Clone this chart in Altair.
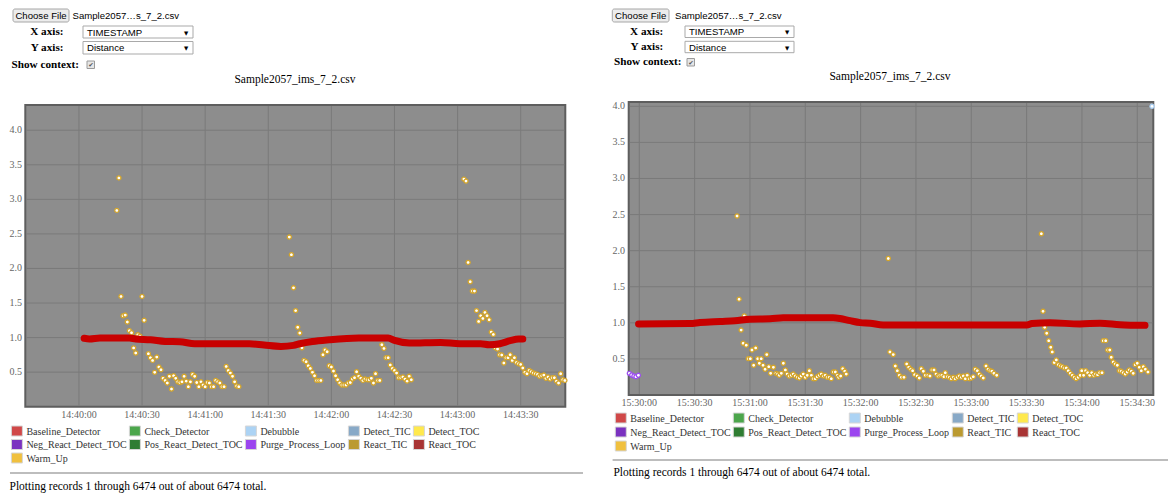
import altair as alt
import pandas as pd

SERIF = "Liberation Serif"
SANS = "Liberation Sans"
SYM = "DejaVu Sans"

FILE_NAME = "Sample2057_ims_7_2.csv"
FILE_SHORT = "Sample2057\u2026s_7_2.csv"
X_FIELD = "TIMESTAMP"
Y_FIELD = "Distance"
FOOTER = "Plotting records 1 through 6474 out of about 6474 total."

LEGEND_NAMES = ["Baseline_Detector", "Check_Detector", "Debubble", "Detect_TIC", "Detect_TOC",
                "Neg_React_Detect_TOC", "Pos_React_Detect_TOC", "Purge_Process_Loop", "React_TIC", "React_TOC",
                "Warm_Up"]
LEGEND_COLORS = ["#d04848", "#4ca64c", "#acd3f4", "#88a9c7", "#ffe94d",
                 "#7a32c0", "#2f7d33", "#9b45ef", "#bb9a30", "#a83434",
                 "#f0c03e"]

Y_TICKS = [0.5, 1.0, 1.5, 2.0, 2.5, 3.0, 3.5, 4.0]
Y_LABELS = ["0.5", "1.0", "1.5", "2.0", "2.5", "3.0", "3.5", "4.0"]

# ---------------- left panel: seconds after 14:40:00 ----------------
L_XTICKS = [0, 30, 60, 90, 120, 150, 180, 210]
L_XLABELS = ["14:40:00", "14:40:30", "14:41:00", "14:41:30", "14:42:00", "14:42:30", "14:43:00", "14:43:30"]

L_RED_T = [2.5, 5, 10, 24, 27, 34, 41, 48, 55, 81, 88, 96, 102, 105, 111, 119, 133, 147, 150, 157,
           172, 181, 191, 195, 200, 205, 209, 211]
L_RED_V = [0.99, 0.98, 0.994, 0.994, 0.979, 0.969, 0.944, 0.94, 0.911, 0.911, 0.892, 0.872, 0.887, 0.911,
           0.944, 0.969, 0.994, 0.994, 0.959, 0.921, 0.93, 0.911, 0.911, 0.897, 0.911, 0.955, 0.979, 0.979]

L_PT_T = [18, 19, 20, 21, 22, 23, 24, 25, 26, 27, 28, 29, 30, 31,
          33, 34, 35, 36, 37, 38, 39, 40, 41, 42, 43, 44, 45, 46, 47, 48, 49, 50, 51, 52, 53, 54,
          55, 56, 57, 58, 59, 60, 61, 62, 63, 64, 65, 66, 67, 68, 69, 70, 71, 72, 73, 74, 75, 76,
          100, 101, 102, 103, 104, 105, 106, 107, 108, 109, 110, 111, 112, 113, 114, 115, 116, 117,
          118, 119, 120, 121, 122, 123, 124, 125, 126, 127, 128, 129, 130, 131, 132, 133, 134, 135,
          136, 137, 138, 139, 140, 141, 142, 143, 144, 145, 146, 147, 148, 149, 150, 151, 152, 153,
          154, 155, 156, 157, 158,
          183, 184, 185, 186, 187, 188, 189, 190, 191, 192, 193, 194, 195, 196, 197, 198, 199, 200,
          201, 202, 203, 204, 205, 206, 207, 208, 209, 210, 211, 212, 213, 214, 215, 216, 217, 218,
          219, 220, 221, 222, 223, 224, 225, 226, 227, 228, 229, 230, 231]
L_PT_V = [2.84, 3.31, 1.595, 1.316, 1.326, 1.225, 1.10, 1.07, 0.85, 0.777, 1.04, 1.02, 1.595, 1.25,
          0.767, 0.709, 0.67, 0.497, 0.718, 0.574, 0.535, 0.41, 0.38, 0.343, 0.44, 0.256, 0.448, 0.41,
          0.36, 0.35, 0.36, 0.44, 0.37, 0.29, 0.36, 0.467, 0.44, 0.35, 0.29, 0.36, 0.314, 0.29, 0.35,
          0.343, 0.29, 0.29, 0.38, 0.36, 0.343, 0.29, 0.29, 0.583, 0.525, 0.487, 0.44, 0.36, 0.30, 0.29,
          2.454, 2.20, 1.72, 1.39, 1.15, 1.066, 0.853, 0.67, 0.65, 0.593, 0.554, 0.497, 0.448, 0.38,
          0.38, 0.38, 0.752, 0.82, 0.795, 0.593, 0.574, 0.516, 0.448, 0.39, 0.343, 0.314, 0.314, 0.314,
          0.343, 0.35, 0.40, 0.42, 0.506, 0.44, 0.41, 0.38, 0.40, 0.39, 0.39, 0.41, 0.343, 0.477, 0.38,
          0.38, 0.897, 0.843, 0.709, 0.709, 0.603, 0.554, 0.525, 0.487, 0.42, 0.42, 0.43, 0.40, 0.37,
          0.44, 0.39,
          3.293, 3.264, 2.087, 1.808, 1.673, 1.673, 1.39, 1.234, 1.316, 1.277, 1.364, 1.316, 1.258,
          1.08, 1.046, 0.85, 0.834, 0.752, 0.748, 0.632, 0.709, 0.709, 0.752, 0.67, 0.709, 0.641,
          0.622, 0.612, 0.56, 0.497, 0.477, 0.525, 0.506, 0.487, 0.477, 0.467, 0.44, 0.448, 0.458,
          0.41, 0.43, 0.40, 0.42, 0.42, 0.37, 0.343, 0.477, 0.39, 0.38]

# ---------------- right panel: seconds after 15:30:00 ----------------
R_XTICKS = [0, 30, 60, 90, 120, 150, 180, 210, 240, 270]
R_XLABELS = ["15:30:00", "15:30:30", "15:31:00", "15:31:30", "15:32:00", "15:32:30", "15:33:00",
             "15:33:30", "15:34:00", "15:34:30"]

R_RED_T = [-0.4, 27.5, 32.9, 43.8, 51.9, 60.0, 70.9, 78.0, 105.1, 108.9, 114.3, 119.8, 125.2, 132.2,
           210.2, 212.9, 222.7, 238.9, 249.8, 260.6, 274.2]
R_RED_V = [0.985, 0.99, 1.005, 1.02, 1.03, 1.05, 1.055, 1.07, 1.07, 1.06, 1.03, 1.003, 0.995, 0.971,
           0.971, 0.99, 1.0, 0.985, 0.995, 0.975, 0.965]

R_PT_T = [53.0, 54.1, 55.2, 56.3, 56.9, 58.0, 59.1, 60.2, 61.1, 62.0, 63.1, 64.2, 65.1, 66.1, 67.1,
          68.2, 69.1, 70.2, 71.2, 72.7, 74.1, 75.0, 75.9, 77.0, 78.1, 79.2, 80.2, 81.3, 82.4, 83.5,
          84.6, 85.7, 86.8, 87.8, 88.9, 90.0, 91.1, 92.2, 93.3, 94.3, 95.4, 96.5, 97.6, 98.7, 99.8,
          100.8, 101.9, 103.0, 104.1, 105.2, 106.3, 107.4, 108.1, 109.2, 110.3, 111.4, 112.2,
          135.0, 135.9, 137.7, 138.8, 139.9, 141.0, 142.1, 143.5, 145.0, 146.1, 147.2, 148.2, 149.3,
          150.7, 151.8, 152.9, 154.0, 155.1, 156.5, 157.6, 158.7, 159.8, 160.9, 162.0, 163.0, 164.1,
          165.2, 165.9, 167.0, 168.1, 169.2, 170.3, 171.3, 172.4, 173.5, 174.6, 175.7, 176.8, 177.8,
          178.9, 180.0, 181.1, 182.2, 183.3, 184.3, 185.4, 186.5, 188.0, 189.1, 190.2, 191.2, 192.3,
          193.8,
          218.0, 218.9, 219.8, 220.9, 222.0, 223.1, 223.9, 225.0, 226.1, 227.2, 228.3, 229.3, 230.4,
          231.5, 232.6, 233.7, 234.8, 235.9, 236.9, 238.0, 239.1, 239.9, 240.9, 242.0, 243.1, 244.2,
          245.3, 246.4, 247.4, 248.5, 249.6, 250.9, 251.6, 252.9, 254.0, 255.1, 255.9, 257.0, 258.1,
          259.2, 260.3, 261.3, 262.4, 263.5, 264.6, 265.7, 266.8, 267.8, 268.9, 270.0, 271.1, 272.2,
          273.3, 274.4, 275.8]
R_PT_V = [2.48, 1.328, 0.90, 0.717, 1.096, 0.69, 0.504, 0.504, 0.624, 0.412, 0.652, 0.504, 0.44,
          0.504, 0.412, 0.357, 0.56, 0.393, 0.30, 0.384, 0.30, 0.29, 0.273, 0.30, 0.44, 0.347, 0.29,
          0.263, 0.273, 0.29, 0.263, 0.245, 0.236, 0.263, 0.29, 0.245, 0.273, 0.337, 0.273, 0.226,
          0.226, 0.254, 0.273, 0.29, 0.263, 0.273, 0.245, 0.245, 0.226, 0.319, 0.319, 0.273, 0.245,
          0.263, 0.365, 0.329, 0.29,
          1.891, 0.597, 0.56, 0.402, 0.337, 0.273, 0.245, 0.245, 0.43, 0.384, 0.357, 0.337, 0.282,
          0.263, 0.236, 0.365, 0.329, 0.273, 0.273, 0.263, 0.347, 0.347, 0.29, 0.263, 0.273, 0.273,
          0.254, 0.31, 0.254, 0.245, 0.226, 0.245, 0.226, 0.245, 0.263, 0.245, 0.263, 0.226, 0.273,
          0.226, 0.236, 0.254, 0.357, 0.337, 0.29, 0.263, 0.236, 0.402, 0.357, 0.337, 0.329, 0.30,
          0.273,
          2.234, 1.161, 0.939, 0.856, 0.753, 0.662, 0.597, 0.449, 0.486, 0.42, 0.402, 0.393, 0.375,
          0.375, 0.337, 0.30, 0.273, 0.245, 0.226, 0.245, 0.273, 0.337, 0.273, 0.337, 0.31, 0.273,
          0.31, 0.273, 0.29, 0.282, 0.31, 0.31, 0.753, 0.753, 0.624, 0.624, 0.523, 0.458, 0.43,
          0.412, 0.337, 0.329, 0.31, 0.29, 0.319, 0.347, 0.329, 0.30, 0.42, 0.44, 0.384, 0.337,
          0.393, 0.357, 0.319]

R_PURGE_T = [-5.4, -4.1, -2.9, -1.8, -0.5]
R_PURGE_V = [0.30, 0.277, 0.263, 0.254, 0.273]
R_DEBUB_T = [278.0]
R_DEBUB_V = [4.0]

# ------------------------------------------------------------------
dummy = pd.DataFrame({"k": [0]})


def txt(s, x, y, size, font=SERIF, weight="normal", align="left", color="#000000"):
    return alt.Chart(dummy).mark_text(text=s, fontSize=size, font=font, fontWeight=weight,
                                      align=align, baseline="middle", color=color).encode(
        x=alt.value(x), y=alt.value(y))


def box(x0, y0, x1, y1, fill, stroke, sw=1.0, r=0):
    return alt.Chart(dummy).mark_rect(fill=fill, stroke=stroke, strokeWidth=sw, cornerRadius=r).encode(
        x=alt.value(x0), x2=alt.value(x1), y=alt.value(y0), y2=alt.value(y1))


def hline(x0, x1, y, color, w):
    return alt.Chart(dummy).mark_rule(color=color, strokeWidth=w).encode(
        x=alt.value(x0), x2=alt.value(x1), y=alt.value(y))


def header(c):
    L = []
    bx0, by0, bx1, by1 = c["button"]
    L.append(box(bx0, by0, bx1, by1, "#ececec", "#a6a6a6", 1, 2))
    L.append(txt("Choose File", (bx0 + bx1) / 2, (by0 + by1) / 2 + 0.5, 9.6, SANS, align="center"))
    L.append(txt(FILE_SHORT, c["fname"][0], c["fname"][1], 9.6, SANS))
    for lab, (lx, ly), (sx0, sy0, sx1, sy1), val in [("X axis:", c["xl"], c["xs"], X_FIELD),
                                                    ("Y axis:", c["yl"], c["ys"], Y_FIELD)]:
        L.append(txt(lab, lx, ly, 11.2, SERIF, "bold", "right"))
        L.append(box(sx0, sy0, sx1, sy1, "#ffffff", "#a9a9a9", 1))
        L.append(txt(val, sx0 + 4, (sy0 + sy1) / 2 + 0.5, 9.6, SANS))
        L.append(txt("\u25bc", sx1 - 7, (sy0 + sy1) / 2 + 0.5, 5.5, SYM, align="center"))
    L.append(txt("Show context:", c["sc"][0], c["sc"][1], 11.2, SERIF, "bold"))
    cx0, cy0 = c["cb"]
    L.append(box(cx0, cy0, cx0 + 7.5, cy0 + 7.5, "#e6e6e6", "#9a9a9a", 1))
    L.append(txt("\u2714", cx0 + 3.9, cy0 + 4.0, 6.5, SYM, align="center", color="#555555"))
    L.append(txt(FILE_NAME, c["title"][0], c["title"][1], 11.5, SERIF, align="center"))
    return L


def panel(frame, xdom, ydom, red_t, red_v, pt_t, pt_v, xticks, xlabels, xlab_y, ylab_x, extras):
    x0, y0, x1, y1 = frame
    xs = alt.Scale(domain=xdom, range=[x0, x1], nice=False, zero=False)
    ys = alt.Scale(domain=ydom, range=[y1, y0], nice=False, zero=False)
    X = lambda f: alt.X(f, scale=xs, axis=None)
    Y = lambda f: alt.Y(f, scale=ys, axis=None)
    L = [box(x0, y0, x1, y1, "#8d8d8d", "#5e5e5e", 2)]
    L.append(alt.Chart(pd.DataFrame({"t": xticks})).mark_rule(color="#7a7a7a", strokeWidth=1).encode(
        x=X("t:Q"), y=alt.value(y0 + 1), y2=alt.value(y1 - 1)))
    L.append(alt.Chart(pd.DataFrame({"v": Y_TICKS})).mark_rule(color="#7a7a7a", strokeWidth=1).encode(
        y=Y("v:Q"), x=alt.value(x0 + 1), x2=alt.value(x1 - 1)))
    L.append(alt.Chart(pd.DataFrame({"t": pt_t, "v": pt_v})).mark_point(
        shape="circle", filled=True, fill="#ffffff", stroke="#d4a52a", strokeWidth=1.3, size=17,
        opacity=1).encode(x=X("t:Q"), y=Y("v:Q")))
    L.append(alt.Chart(pd.DataFrame({"t": red_t, "v": red_v})).mark_line(
        color="#c80000", strokeWidth=7, strokeCap="round", strokeJoin="round",
        interpolate="monotone").encode(x=X("t:Q"), y=Y("v:Q")))
    for (et, ev, col) in extras:
        L.append(alt.Chart(pd.DataFrame({"t": et, "v": ev})).mark_point(
            shape="circle", filled=True, fill="#ffffff", stroke=col, strokeWidth=1.3, size=17,
            opacity=1).encode(x=X("t:Q"), y=Y("v:Q")))
    L.append(alt.Chart(pd.DataFrame({"t": xticks, "lab": xlabels})).mark_text(
        font=SERIF, fontSize=10, color="#666666", align="center", baseline="middle").encode(
        x=X("t:Q"), y=alt.value(xlab_y), text="lab:N"))
    L.append(alt.Chart(pd.DataFrame({"v": Y_TICKS, "lab": Y_LABELS})).mark_text(
        font=SERIF, fontSize=10, color="#666666", align="right", baseline="middle").encode(
        y=Y("v:Q"), x=alt.value(ylab_x), text="lab:N"))
    return L


def legend(x0, rows_y):
    cols = [0, 118, 234, 337, 402]
    recs = []
    for i, n in enumerate(LEGEND_NAMES):
        r, ci = divmod(i, 5)
        sx = x0 + cols[ci]
        sy = rows_y[r]
        recs.append({"name": n, "sx": sx, "sx2": sx + 11, "sy": sy - 5, "sy2": sy + 5,
                     "tx": sx + 15, "ty": sy + 0.5})
    df = pd.DataFrame(recs)
    sw = alt.Chart(df).mark_rect(stroke="#d6d6d6", strokeWidth=1).encode(
        x=alt.X("sx:Q", scale=None), x2="sx2:Q", y=alt.Y("sy:Q", scale=None), y2="sy2:Q",
        fill=alt.Fill("name:N", scale=alt.Scale(domain=LEGEND_NAMES, range=LEGEND_COLORS), legend=None))
    tx = alt.Chart(df).mark_text(font=SERIF, fontSize=10, color="#333333", align="left",
                                 baseline="middle").encode(
        x=alt.X("tx:Q", scale=None), y=alt.Y("ty:Q", scale=None), text="name:N")
    return [sw, tx]


layers = []
# left panel (canvas coords = page - 8)
layers += header({"button": (5, 1, 61, 14), "fname": (64.5, 7.5), "xl": (55.5, 24), "yl": (55.5, 40),
                  "xs": (75, 18, 185, 30), "ys": (75, 33.5, 185, 46), "sc": (3.5, 57), "cb": (79, 53),
                  "title": (287, 72)})
layers += panel((17.3, 97, 557.3, 398.7), [-25.5, 231.2], [0, 4.365], L_RED_T, L_RED_V, L_PT_T, L_PT_V,
                L_XTICKS, L_XLABELS, 407, 14, [])
layers += legend(3.4, [423, 436.5, 450])
layers.append(hline(2, 575, 465, "#bdbdbd", 2))
layers.append(txt(FOOTER, 1.5, 479, 11.5, SERIF))

# right panel
layers += header({"button": (604.3, 1, 661, 14), "fname": (667, 7.5), "xl": (655.3, 23.7), "yl": (655.3, 38.7),
                  "xs": (677, 18, 786, 29.5), "ys": (677, 33.3, 786, 44.7), "sc": (606, 54), "cb": (679, 50.5),
                  "title": (882, 69)})
layers += panel((620.7, 94, 1145.3, 387), [-5.75, 278.7], [0, 4.06], R_RED_T, R_RED_V, R_PT_T, R_PT_V,
                R_XTICKS, R_XLABELS, 395.3, 617,
                [(R_PURGE_T, R_PURGE_V, "#9b4cef"), (R_DEBUB_T, R_DEBUB_V, "#a9cdf0")])
layers += legend(607.3, [410, 424, 438])
layers.append(hline(604.6, 1160, 452, "#bdbdbd", 2))
layers.append(txt(FOOTER, 605.4, 464.7, 11.5, SERIF))

chart = alt.layer(*layers).resolve_scale(x="independent", y="independent").properties(
    width=1160, height=485, autosize=alt.AutoSizeParams(type="none"), padding=0
).configure_view(stroke=None)

chart.save("out.html", embed_options={"renderer": "svg", "actions": False})
